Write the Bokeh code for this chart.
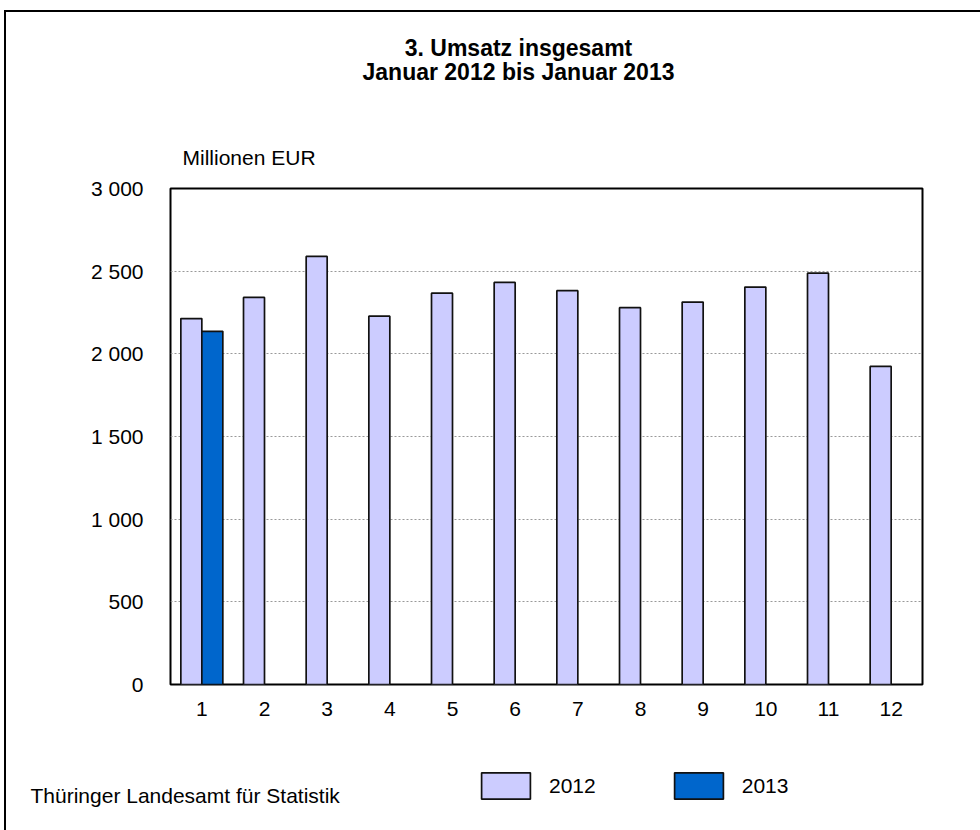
from bokeh.plotting import figure
from bokeh.layouts import column
from bokeh.models import (Legend, LegendItem, FixedTicker, Title,
                          ColumnDataSource, Range1d)
from bokeh.embed import file_html
from bokeh.resources import INLINE

months = [1, 2, 3, 4, 5, 6, 7, 8, 9, 10, 11, 12]
month_labels = ["1", "2", "3", "4", "5", "6", "7", "8", "9", "10", "11", "12"]
values_2012 = [2213, 2341, 2589, 2228, 2367, 2432, 2382, 2279, 2313, 2404, 2488, 1924]
months_2013 = [1]
values_2013 = [2136]
y_ticks = [0, 500, 1000, 1500, 2000, 2500, 3000]
y_tick_labels = ["0", "500", "1 000", "1 500", "2 000", "2 500", "3 000"]
title_lines = ["3. Umsatz insgesamt", "Januar 2012 bis Januar 2013"]
unit_label = "Millionen EUR"
source_label = "Thüringer Landesamt für Statistik"
series_names = ["2012", "2013"]
colors = ["#ccccff", "#0066cc"]

FONT = "Liberation Sans"
W = 974
bw = 0.335

s12 = ColumnDataSource(dict(x=[m - bw / 2 for m in months], top=values_2012))
s13 = ColumnDataSource(dict(x=[m + bw / 2 for m in months_2013], top=values_2013))

# ---------------- main chart ----------------
p = figure(width=W, height=718, output_backend="svg", toolbar_location=None,
           x_range=Range1d(0.5, 12.5), y_range=Range1d(0, 3000),
           min_border_left=164, min_border_right=58, min_border_top=0, min_border_bottom=46,
           background_fill_color="white", border_fill_color="white")

bar_style = dict(width=bw, line_color="#111111", line_width=1.7)
p.vbar(x="x", top="top", source=s12, fill_color=colors[0], **bar_style)
p.vbar(x="x", top="top", source=s13, fill_color=colors[1], **bar_style)

p.outline_line_color = "black"
p.outline_line_width = 2
p.xgrid.grid_line_color = None
p.ygrid.ticker = FixedTicker(ticks=y_ticks)
p.ygrid.grid_line_color = "#999999"
p.ygrid.grid_line_dash = "2 2"
p.ygrid.grid_line_width = 1

p.yaxis.ticker = FixedTicker(ticks=y_ticks)
p.yaxis.major_label_overrides = {t: s for t, s in zip(y_ticks, y_tick_labels)}
p.xaxis.ticker = FixedTicker(ticks=months)
p.xaxis.major_label_overrides = {m: s for m, s in zip(months, month_labels)}
for ax in (p.xaxis, p.yaxis):
    ax.axis_line_color = None
    ax.major_tick_line_color = None
    ax.minor_tick_line_color = None
    ax.major_label_text_font = FONT
    ax.major_label_text_font_size = "21px"
    ax.major_label_text_color = "black"
p.yaxis.major_label_standoff = 21
p.xaxis.major_label_standoff = 11

# above panels: first added is nearest to the frame
p.add_layout(Title(text=unit_label, align="left", offset=12, standoff=40,
                   text_font=FONT, text_font_size="21px", text_font_style="normal",
                   text_color="black"), "above")
p.add_layout(Title(text=" ", align="left", standoff=2,
                   text_font=FONT, text_font_size="12px"), "above")
p.add_layout(Title(text="\n".join(title_lines), align="center", text_align="center",
                   standoff=41, padding=dict(left=0, right=56, top=0, bottom=0),
                   text_font=FONT, text_font_size="23px", text_font_style="bold",
                   text_line_height=0.92, text_color="black"), "above")

# ---------------- bottom strip: legend + source ----------------
# legend proxies share the real data; this strip's ranges lie beyond the data,
# so only their legend swatches are drawn
q = figure(width=W, height=100, output_backend="svg", toolbar_location=None,
           x_range=Range1d(100, 101), y_range=Range1d(10000, 10001),
           x_axis_type=None, y_axis_type=None,
           min_border_left=164, min_border_right=58, min_border_top=0, min_border_bottom=27,
           outline_line_color=None,
           background_fill_color="white", border_fill_color="white")
q.grid.visible = False
k12 = q.vbar(x="x", top="top", source=s12, fill_color=colors[0], **bar_style)
k13 = q.vbar(x="x", top="top", source=s13, fill_color=colors[1], **bar_style)
legend = Legend(items=[LegendItem(label=series_names[0], renderers=[k12]),
                       LegendItem(label=series_names[1], renderers=[k13])],
                location=(305, 1), orientation="horizontal",
                glyph_width=61, glyph_height=33, label_height=33,
                label_standoff=13, spacing=72, padding=0, margin=0,
                border_line_color=None, background_fill_alpha=0,
                label_text_font=FONT, label_text_font_size="21px", label_text_color="black")
q.add_layout(legend)

foot_style = dict(text=source_label, align="left", offset=-140, vertical_align="top",
                  text_font=FONT, text_font_size="21px", text_font_style="normal",
                  text_color="black")
try:
    footer = Title(standoff=-40, **foot_style)
except Exception:
    footer = Title(standoff=0, **foot_style)
q.add_layout(footer, "below")

layout = column(p, q, spacing=0)
layout.styles = {"margin-left": "4px", "margin-top": "10px",
                 "border-left": "2px solid black", "border-top": "2px solid black"}

open("out.html", "w").write(file_html(layout, INLINE))
